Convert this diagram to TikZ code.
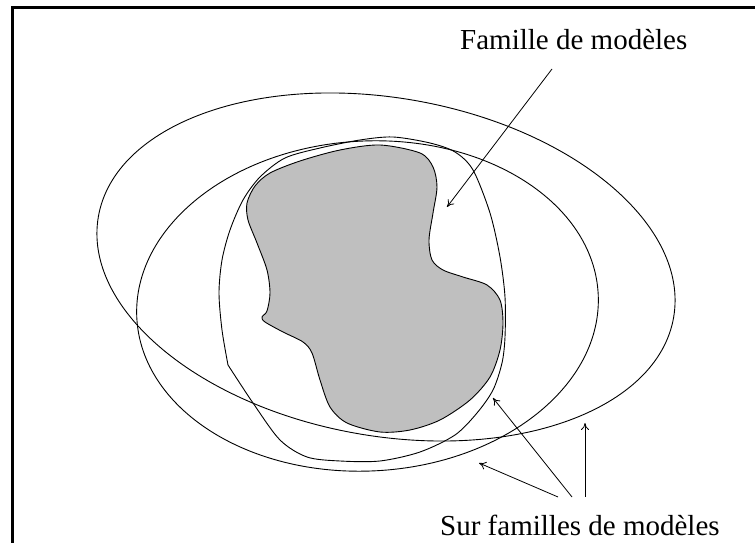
\documentclass[tikz,border=0pt]{standalone}
\usepackage{fontspec}
\setmainfont{Liberation Serif}
\usetikzlibrary{arrows.meta}
\begin{document}
\begin{tikzpicture}[x=1pt,y=1pt,
            trait/.style={line width=0.9pt},
            fleche/.style={-{To[length=7pt,width=8pt]},line width=0.8pt},
            legende/.style={font=\fontsize{29}{34}\selectfont,inner sep=0pt,anchor=base west}]
            \useasboundingbox (0,0) rectangle (755,543);
            \clip (0,0) rectangle (755,543);
            \draw[line width=3pt] (12.5,535.2) rectangle (800,-50);
            % famille de modeles (zone grise)
            \draw[trait,fill=black!25] plot[smooth cycle] coordinates {(247,340) (255,357) (270,370) (300,382) (340,393) (380,398) (420,390) (433,376) (437,356) (433,330) (429,303) (432,283) (443,273) (463,266) (487,258) (500,243) (503,220) (500,193) (490,166) (470,143) (440,123) (410,113) (380,111) (347,120) (330,136) (320,163) (312,190) (303,201) (283,211) (265,221) (262,226) (267,232) (270,250) (267,273) (257,300) (248,323)};
            % sur familles
            \draw[trait] plot[smooth] coordinates {(228,178) (222,213) (219,250) (222,283) (230,313) (243,343) (260,366) (285,385) (320,395) (360,403) (393,406) (430,400) (455,391) (473,373) (490,330) (500,286) (505,246) (505,206) (502,180) (493,153) (477,130) (455,108) (420,91) (380,82) (340,82) (307,86) (280,103) (253,140) (228,178)};
            \draw[trait,rotate around={3:(367.5,237)}] (367.5,237) ellipse [x radius=231pt, y radius=165pt];
            \draw[trait,rotate around={-10:(386,276)}] (386,276) ellipse [x radius=292pt, y radius=169pt];
            % textes et fleches
            \node[legende] (famille) at (460,493) {Famille de modèles};
            \node[legende] (surfam) at (440,7) {Sur familles de modèles};
            \coordinate (f0) at (552,474);
            \coordinate (f1) at (447,336);
            \coordinate (s0) at (558,46);
            \coordinate (s1) at (479,80);
            \coordinate (t0) at (572,46);
            \coordinate (t1) at (493,145);
            \coordinate (u0) at (585,46);
            \coordinate (u1) at (585,120);
            \draw[fleche] (f0) -- (f1);
            \draw[fleche] (s0) -- (s1);
            \draw[fleche] (t0) -- (t1);
            \draw[fleche] (u0) -- (u1);
        \end{tikzpicture}
\end{document}
